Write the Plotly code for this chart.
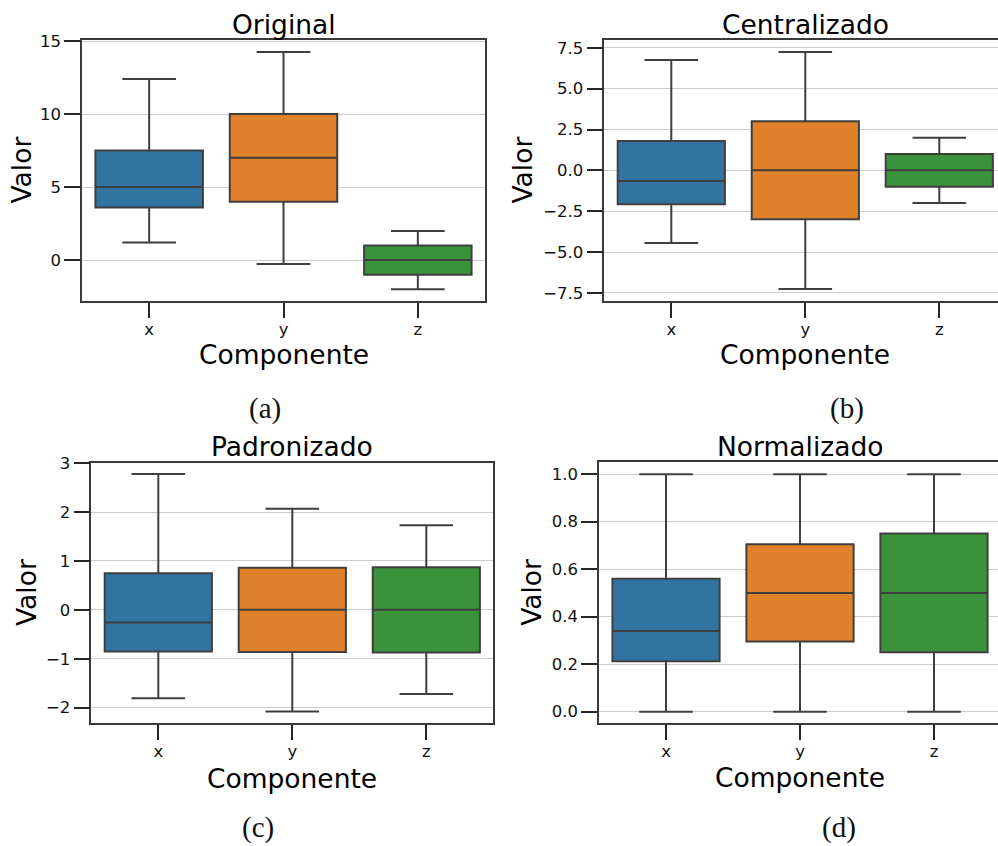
import plotly.graph_objects as go

categories = ["x", "y", "z"]
colors = ["#3274a1", "#e1812c", "#3a923a"]

titles = ["Original", "Centralizado", "Padronizado", "Normalizado"]
sublabels = ["(a)", "(b)", "(c)", "(d)"]

# per panel: lower whisker, Q1, median, Q3, upper whisker  (for x, y, z)
orig_low = [1.2, -0.27, -2.0]
orig_q1 = [3.6, 4.0, -1.0]
orig_med = [5.0, 7.0, 0.0]
orig_q3 = [7.5, 10.0, 1.0]
orig_high = [12.4, 14.25, 2.0]

cent_low = [-4.45, -7.27, -2.0]
cent_q1 = [-2.08, -3.0, -1.0]
cent_med = [-0.66, 0.0, 0.0]
cent_q3 = [1.8, 3.0, 1.0]
cent_high = [6.75, 7.25, 2.0]

pad_low = [-1.81, -2.08, -1.72]
pad_q1 = [-0.85, -0.86, -0.87]
pad_med = [-0.26, 0.0, 0.0]
pad_q3 = [0.75, 0.86, 0.87]
pad_high = [2.78, 2.07, 1.73]

norm_low = [0.0, 0.0, 0.0]
norm_q1 = [0.212, 0.295, 0.25]
norm_med = [0.34, 0.5, 0.5]
norm_q3 = [0.56, 0.705, 0.75]
norm_high = [1.0, 1.0, 1.0]

panels = [
    (orig_low, orig_q1, orig_med, orig_q3, orig_high),
    (cent_low, cent_q1, cent_med, cent_q3, cent_high),
    (pad_low, pad_q1, pad_med, pad_q3, pad_high),
    (norm_low, norm_q1, norm_med, norm_q3, norm_high),
]

W, H = 998, 846
# plot areas in pixels: left, right(full axes), top, bottom
areas = [
    (82, 485, 40, 301),
    (604.3, 1006.3, 40, 301),
    (91.3, 493.3, 462.7, 723.3),
    (599, 1001, 462.3, 723.3),
]
yranges = [[-2.8, 15.07], [-8.0, 7.98], [-2.32, 3.01], [-0.049, 1.05]]
ytickvals = [[0, 5, 10, 15], [-7.5, -5, -2.5, 0, 2.5, 5, 7.5],
             [-2, -1, 0, 1, 2, 3], [0, 0.2, 0.4, 0.6, 0.8, 1.0]]
yticktext = [["0", "5", "10", "15"],
             ["\u22127.5", "\u22125.0", "\u22122.5", "0.0", "2.5", "5.0", "7.5"],
             ["\u22122", "\u22121", "0", "1", "2", "3"],
             ["0.0", "0.2", "0.4", "0.6", "0.8", "1.0"]]
valor_x = [21, 522, 26, 532]
comp_y = [354, 354, 778, 777]
title_y = [24, 24, 446, 446]
sub_pos = [(265, 408), (847, 408), (258, 827), (839, 827)]

fig = go.Figure()
annotations = []
for i, (low, q1, med, q3, high) in enumerate(panels):
    ax = "" if i == 0 else str(i + 1)
    left, right, top, bottom = areas[i]
    x_right = min(right, W)
    xr = [-0.5, -0.5 + 3 * (x_right - left) / (right - left)]
    for j, cat in enumerate(categories):
        fig.add_trace(go.Box(
            x=[cat], q1=[q1[j]], median=[med[j]], q3=[q3[j]],
            lowerfence=[low[j]], upperfence=[high[j]],
            fillcolor=colors[j], line=dict(color="#3f3f3f", width=2),
            width=0.8, whiskerwidth=0.5, boxpoints=False,
            showlegend=False, hoverinfo="skip",
            xaxis="x" + ax, yaxis="y" + ax,
        ))
    clipped = right > W
    fig.layout["xaxis" + ax] = dict(
        domain=[left / W, x_right / W], range=xr, anchor="y" + ax,
        type="category", categoryorder="array", categoryarray=categories,
        showline=True, linecolor="#3a3a3a", linewidth=1.5, mirror=True,
        ticks="outside", ticklen=15, tickwidth=1.5, tickcolor="#262626",
        tickfont=dict(family="DejaVu Sans", size=16.5, color="#111"),
        ticklabelstandoff=-3,
        showgrid=False, zeroline=False, automargin=False,
    )
    fig.layout["yaxis" + ax] = dict(
        domain=[1 - bottom / H, 1 - top / H], range=yranges[i], anchor="x" + ax,
        showline=True, linecolor="#3a3a3a", linewidth=1.5,
        mirror=(False if clipped else True),
        tickvals=ytickvals[i], ticktext=yticktext[i],
        ticks="outside", ticklen=16, tickwidth=1.5, tickcolor="#262626",
        tickfont=dict(family="DejaVu Sans", size=16.5, color="#111"),
        showgrid=True, gridcolor="#cccccc", gridwidth=1.2, zeroline=False,
        automargin=False,
    )
    cx = (left + right) / 2
    annotations.append(dict(text=titles[i], x=cx / W, y=1 - title_y[i] / H,
                            xref="paper", yref="paper", showarrow=False,
                            xanchor="center", yanchor="middle",
                            font=dict(family="DejaVu Sans", size=26.5, color="#000")))
    annotations.append(dict(text="Componente", x=cx / W, y=1 - comp_y[i] / H,
                            xref="paper", yref="paper", showarrow=False,
                            xanchor="center", yanchor="middle",
                            font=dict(family="DejaVu Sans", size=26.5, color="#000")))
    annotations.append(dict(text="Valor", x=valor_x[i] / W,
                            y=1 - (top + bottom) / 2 / H,
                            xref="paper", yref="paper", showarrow=False,
                            textangle=-90, xanchor="center", yanchor="middle",
                            font=dict(family="DejaVu Sans", size=26.5, color="#000")))
    annotations.append(dict(text=sublabels[i], x=sub_pos[i][0] / W,
                            y=1 - sub_pos[i][1] / H,
                            xref="paper", yref="paper", showarrow=False,
                            xanchor="center", yanchor="middle",
                            font=dict(family="Liberation Serif", size=29, color="#111")))

fig.update_layout(
    width=W, height=H, margin=dict(l=0, r=0, t=0, b=0, autoexpand=False),
    paper_bgcolor="white", plot_bgcolor="white",
    boxmode="overlay", annotations=annotations,
)
fig.write_html(
    "out.html",
    config={"displayModeBar": False},
    post_script="document.body.style.margin='0px';document.body.style.padding='0px';"
                "document.body.style.overflow='hidden';",
)
